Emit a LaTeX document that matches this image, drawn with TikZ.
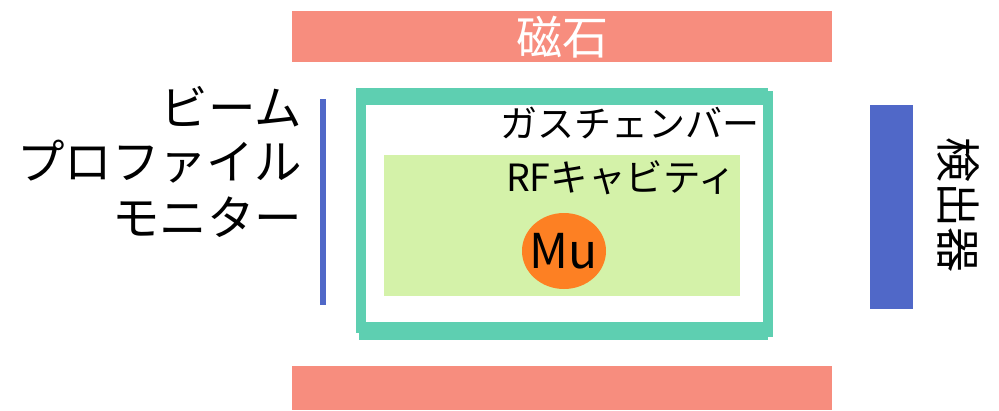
\documentclass[tikz,border=0pt]{standalone}
\usepackage{fontspec}
\setmainfont{Noto Sans CJK JP}
\definecolor{magnet}{RGB}{247,141,126}
\definecolor{chamber}{RGB}{94,207,177}
\definecolor{cavity}{RGB}{212,242,169}
\definecolor{muon}{RGB}{253,128,35}
\definecolor{bluebar}{RGB}{80,104,200}
\begin{document}
\begin{tikzpicture}[x=1pt,y=-1pt,
  lbl/.style={inner sep=0pt,outer sep=0pt,text=black},
  bpmtext/.style={lbl,anchor=east,font=\fontsize{47.5}{47.5}\selectfont}]
\useasboundingbox (0,0) rectangle (999,410);
% magnets
\fill[magnet] (292,11) rectangle (832,62);
\fill[magnet] (292,366) rectangle (832,410);
\node[lbl,text=white,font=\fontsize{46}{46}\selectfont] (magtext) at (562,37) {磁石};
% gas chamber frame
\fill[chamber] (356,88) rectangle (768,105);
\fill[chamber] (356,88) rectangle (366,333);
\fill[chamber] (763,91) rectangle (773,337);
\fill[chamber] (359,322) rectangle (768,340);
\node[lbl,anchor=east,font=\fontsize{37}{37}\selectfont] (gas) at (759,123) {ガスチェンバー};
% RF cavity
\fill[cavity] (384,155) rectangle (740,296);
\node[lbl,anchor=west,font=\fontsize{37.5}{37.5}\selectfont] (rf) at (506,178) {RFキャビティ};
% muonium
\fill[muon] (564,251) ellipse [x radius=42, y radius=38];
\node[lbl,font=\fontsize{48}{48}\selectfont] (mu) at (564,251) {Mu};
% beam profile monitor
\fill[bluebar] (320,99) rectangle (326,305);
\node[bpmtext] (bpm1) at (302,107) {ビーム};
\node[bpmtext] (bpm2) at (302,162) {プロファイル};
\node[bpmtext] (bpm3) at (302,217) {モニター};
% detector
\fill[bluebar] (870,105) rectangle (913,309);
\node[lbl,rotate=-90,font=\fontsize{45}{45}\selectfont] (det) at (958,205) {検出器};
\end{tikzpicture}
\end{document}
